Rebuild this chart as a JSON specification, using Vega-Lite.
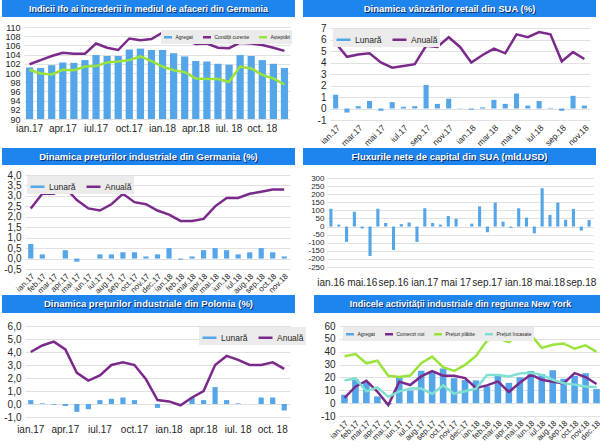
{
"$schema": "https://vega.github.io/schema/vega-lite/v6.json",
"background": "white",
"padding": {"left": 2, "right": 0, "top": 0, "bottom": 0},
"config": {
  "view": {"stroke": null},
  "font": "Liberation Sans",
  "axis": {"labelFont": "Liberation Sans", "labelColor": "#262626", "labelFontSize": 10, "ticks": false, "domain": false, "title": null, "gridColor": "#d9d9d9", "gridWidth": 0.8, "labelOverlap": false, "labelBound": false, "labelFlush": false, "minExtent": 0},
  "axisX": {"grid": false, "labelPadding": 3},
  "axisY": {"labelAlign": "right"},
  "legend": {"title": null, "symbolType": "stroke", "direction": "horizontal", "labelFont": "Liberation Sans", "labelColor": "#262626", "fillColor": "#ebebeb", "padding": 2, "offset": 3, "columnPadding": 5, "labelOffset": 3},
  "bar": {"color": "#55A6E8"},
  "line": {"strokeWidth": 2.5},
  "text": {"font": "Liberation Sans", "fontWeight": "bold"}
},
"datasets": {
"ifo": [
{"m":"ian.17","s":"Agregat","v":101.2},{"m":"feb.17","s":"Agregat","v":101.1},{"m":"mar.17","s":"Agregat","v":101.7},{"m":"apr.17","s":"Agregat","v":102.3},{"m":"mai.17","s":"Agregat","v":102.2},{"m":"iun.17","s":"Agregat","v":102.8},{"m":"iul.17","s":"Agregat","v":103.9},{"m":"aug.17","s":"Agregat","v":103.7},{"m":"sep.17","s":"Agregat","v":103.7},{"m":"oct.17","s":"Agregat","v":105.1},{"m":"nov.17","s":"Agregat","v":105.3},{"m":"dec.17","s":"Agregat","v":105.0},{"m":"ian.18","s":"Agregat","v":105.0},{"m":"feb.18","s":"Agregat","v":104.3},{"m":"mar.18","s":"Agregat","v":103.6},{"m":"apr.18","s":"Agregat","v":102.6},{"m":"mai.18","s":"Agregat","v":102.5},{"m":"iun.18","s":"Agregat","v":102.0},{"m":"iul. 18","s":"Agregat","v":101.8},{"m":"aug.18","s":"Agregat","v":103.9},{"m":"sep.18","s":"Agregat","v":103.7},{"m":"oct. 18","s":"Agregat","v":102.8},{"m":"nov.18","s":"Agregat","v":102.0},{"m":"dec.18","s":"Agregat","v":101.1},
{"m":"ian.17","s":"Condiții curente","v":101.9},{"m":"feb.17","s":"Condiții curente","v":102.8},{"m":"mar.17","s":"Condiții curente","v":103.7},{"m":"apr.17","s":"Condiții curente","v":104.4},{"m":"mai.17","s":"Condiții curente","v":104.2},{"m":"iun.17","s":"Condiții curente","v":104.2},{"m":"iul.17","s":"Condiții curente","v":106.4},{"m":"aug.17","s":"Condiții curente","v":105.5},{"m":"sep.17","s":"Condiții curente","v":105.0},{"m":"oct.17","s":"Condiții curente","v":107.5},{"m":"nov.17","s":"Condiții curente","v":107.1},{"m":"dec.17","s":"Condiții curente","v":107.4},{"m":"ian.18","s":"Condiții curente","v":108.8},{"m":"feb.18","s":"Condiții curente","v":108.4},{"m":"mar.18","s":"Condiții curente","v":107.2},{"m":"apr.18","s":"Condiții curente","v":106.3},{"m":"mai.18","s":"Condiții curente","v":106.4},{"m":"iun.18","s":"Condiții curente","v":105.5},{"m":"iul. 18","s":"Condiții curente","v":105.4},{"m":"aug.18","s":"Condiții curente","v":106.6},{"m":"sep.18","s":"Condiții curente","v":106.4},{"m":"oct. 18","s":"Condiții curente","v":106.1},{"m":"nov.18","s":"Condiții curente","v":105.5},{"m":"dec.18","s":"Condiții curente","v":104.8},
{"m":"ian.17","s":"Așteptări","v":100.7},{"m":"feb.17","s":"Așteptări","v":99.9},{"m":"mar.17","s":"Așteptări","v":99.7},{"m":"apr.17","s":"Așteptări","v":100.7},{"m":"mai.17","s":"Așteptări","v":100.6},{"m":"iun.17","s":"Așteptări","v":101.4},{"m":"iul.17","s":"Așteptări","v":101.5},{"m":"aug.17","s":"Așteptări","v":102.3},{"m":"sep.17","s":"Așteptări","v":102.5},{"m":"oct.17","s":"Așteptări","v":102.8},{"m":"nov.17","s":"Așteptări","v":103.6},{"m":"dec.17","s":"Așteptări","v":102.6},{"m":"ian.18","s":"Așteptări","v":101.4},{"m":"feb.18","s":"Așteptări","v":100.6},{"m":"mar.18","s":"Așteptări","v":100.2},{"m":"apr.18","s":"Așteptări","v":98.8},{"m":"mai.18","s":"Așteptări","v":98.7},{"m":"iun.18","s":"Așteptări","v":98.7},{"m":"iul. 18","s":"Așteptări","v":98.1},{"m":"aug.18","s":"Așteptări","v":101.4},{"m":"sep.18","s":"Așteptări","v":101.0},{"m":"oct. 18","s":"Așteptări","v":99.6},{"m":"nov.18","s":"Așteptări","v":98.8},{"m":"dec.18","s":"Așteptări","v":97.5}
],
"retail": [
{"m":"ian.17","s":"Lunară","v":1.2},{"m":"feb.17","s":"Lunară","v":-0.35},{"m":"mar.17","s":"Lunară","v":0.2},{"m":"apr.17","s":"Lunară","v":0.65},{"m":"mai 17","s":"Lunară","v":-0.2},{"m":"iun.17","s":"Lunară","v":0.55},{"m":"iul.17","s":"Lunară","v":0.15},{"m":"aug.17","s":"Lunară","v":0.2},{"m":"sep.17","s":"Lunară","v":2.05},{"m":"oct.17","s":"Lunară","v":0.4},{"m":"nov.17","s":"Lunară","v":0.85},{"m":"dec.17","s":"Lunară","v":0.02},{"m":"ian.18","s":"Lunară","v":-0.1},{"m":"feb.18","s":"Lunară","v":0.1},{"m":"mar.18","s":"Lunară","v":0.75},{"m":"apr.18","s":"Lunară","v":0.4},{"m":"mai 18","s":"Lunară","v":1.3},{"m":"iun.18","s":"Lunară","v":0.25},{"m":"iul.18","s":"Lunară","v":0.65},{"m":"aug.18","s":"Lunară","v":0.05},{"m":"sep.18","s":"Lunară","v":-0.2},{"m":"oct.18","s":"Lunară","v":1.1},{"m":"nov.18","s":"Lunară","v":0.25},
{"m":"ian.17","s":"Anuală","v":5.7},{"m":"feb.17","s":"Anuală","v":4.5},{"m":"mar.17","s":"Anuală","v":4.7},{"m":"apr.17","s":"Anuală","v":4.8},{"m":"mai 17","s":"Anuală","v":4.0},{"m":"iun.17","s":"Anuală","v":3.55},{"m":"iul.17","s":"Anuală","v":3.7},{"m":"aug.17","s":"Anuală","v":3.85},{"m":"sep.17","s":"Anuală","v":5.45},{"m":"oct.17","s":"Anuală","v":5.35},{"m":"nov.17","s":"Anuală","v":6.2},{"m":"dec.17","s":"Anuală","v":5.35},{"m":"ian.18","s":"Anuală","v":4.0},{"m":"feb.18","s":"Anuală","v":4.65},{"m":"mar.18","s":"Anuală","v":5.2},{"m":"apr.18","s":"Anuală","v":4.8},{"m":"mai 18","s":"Anuală","v":6.45},{"m":"iun.18","s":"Anuală","v":6.2},{"m":"iul.18","s":"Anuală","v":6.65},{"m":"aug.18","s":"Anuală","v":6.45},{"m":"sep.18","s":"Anuală","v":4.1},{"m":"oct.18","s":"Anuală","v":4.9},{"m":"nov.18","s":"Anuală","v":4.3}
],
"deppi": [
{"m":"ian.17","s":"Lunară","v":0.7},{"m":"feb.17","s":"Lunară","v":0.2},{"m":"mar.17","s":"Lunară","v":0.0},{"m":"apr.17","s":"Lunară","v":0.4},{"m":"mai 17","s":"Lunară","v":-0.15},{"m":"iun.17","s":"Lunară","v":0.0},{"m":"iul.17","s":"Lunară","v":0.2},{"m":"aug.17","s":"Lunară","v":0.2},{"m":"sep.17","s":"Lunară","v":0.3},{"m":"oct.17","s":"Lunară","v":0.3},{"m":"nov.17","s":"Lunară","v":0.1},{"m":"dec.17","s":"Lunară","v":0.2},{"m":"ian.18","s":"Lunară","v":0.5},{"m":"feb.18","s":"Lunară","v":-0.05},{"m":"mar.18","s":"Lunară","v":0.1},{"m":"apr.18","s":"Lunară","v":0.4},{"m":"mai.18","s":"Lunară","v":0.5},{"m":"iun.18","s":"Lunară","v":0.4},{"m":"iul.18","s":"Lunară","v":0.2},{"m":"aug.18","s":"Lunară","v":0.3},{"m":"sep.18","s":"Lunară","v":0.5},{"m":"oct.18","s":"Lunară","v":0.3},{"m":"nov.18","s":"Lunară","v":0.1},
{"m":"ian.17","s":"Anuală","v":2.4},{"m":"feb.17","s":"Anuală","v":3.1},{"m":"mar.17","s":"Anuală","v":3.1},{"m":"apr.17","s":"Anuală","v":3.4},{"m":"mai 17","s":"Anuală","v":2.8},{"m":"iun.17","s":"Anuală","v":2.4},{"m":"iul.17","s":"Anuală","v":2.3},{"m":"aug.17","s":"Anuală","v":2.6},{"m":"sep.17","s":"Anuală","v":3.1},{"m":"oct.17","s":"Anuală","v":2.7},{"m":"nov.17","s":"Anuală","v":2.6},{"m":"dec.17","s":"Anuală","v":2.3},{"m":"ian.18","s":"Anuală","v":2.1},{"m":"feb.18","s":"Anuală","v":1.8},{"m":"mar.18","s":"Anuală","v":1.8},{"m":"apr.18","s":"Anuală","v":1.9},{"m":"mai.18","s":"Anuală","v":2.5},{"m":"iun.18","s":"Anuală","v":2.9},{"m":"iul.18","s":"Anuală","v":2.9},{"m":"aug.18","s":"Anuală","v":3.1},{"m":"sep.18","s":"Anuală","v":3.2},{"m":"oct.18","s":"Anuală","v":3.3},{"m":"nov.18","s":"Anuală","v":3.3}
],
"flux": [
{"m":"ian.16","v":110},{"m":"feb.16","v":12},{"m":"mar.16","v":-95},{"m":"apr.16","v":92},{"m":"mai.16","v":-12},{"m":"iun.16","v":-182},{"m":"iul.16","v":110},{"m":"aug.16","v":22},{"m":"sep.16","v":-145},{"m":"oct.16","v":15},{"m":"nov.16","v":25},{"m":"dec.16","v":-95},{"m":"ian.17","v":113},{"m":"feb.17","v":22},{"m":"mar.17","v":12},{"m":"apr.17","v":65},{"m":"mai 17","v":48},{"m":"iun.17","v":0},{"m":"iul.17","v":18},{"m":"aug.17","v":125},{"m":"sep.17","v":-35},{"m":"oct.17","v":148},{"m":"nov.17","v":30},{"m":"dec.17","v":-8},{"m":"ian.18","v":113},{"m":"feb.18","v":55},{"m":"mar.18","v":-42},{"m":"apr.18","v":237},{"m":"mai.18","v":72},{"m":"iun.18","v":148},{"m":"iul.18","v":42},{"m":"aug.18","v":108},{"m":"sep.18","v":-25},{"m":"oct.18","v":40}
],
"plppi": [
{"m":"ian.17","s":"Lunară","v":0.3},{"m":"feb.17","s":"Lunară","v":0.05},{"m":"mar.17","s":"Lunară","v":-0.05},{"m":"apr.17","s":"Lunară","v":-0.15},{"m":"mai.17","s":"Lunară","v":-0.6},{"m":"iun.17","s":"Lunară","v":-0.4},{"m":"iul.17","s":"Lunară","v":0.3},{"m":"aug.17","s":"Lunară","v":0.4},{"m":"sep.17","s":"Lunară","v":0.5},{"m":"oct.17","s":"Lunară","v":0.3},{"m":"nov.17","s":"Lunară","v":0.0},{"m":"dec.17","s":"Lunară","v":-0.3},{"m":"ian.18","s":"Lunară","v":0.0},{"m":"feb.18","s":"Lunară","v":-0.05},{"m":"mar.18","s":"Lunară","v":0.5},{"m":"apr.18","s":"Lunară","v":0.3},{"m":"mai.18","s":"Lunară","v":1.3},{"m":"iun.18","s":"Lunară","v":0.3},{"m":"iul. 18","s":"Lunară","v":0.05},{"m":"aug.18","s":"Lunară","v":0.0},{"m":"sep.18","s":"Lunară","v":0.5},{"m":"oct. 18","s":"Lunară","v":0.5},{"m":"nov.18","s":"Lunară","v":-0.5},
{"m":"ian.17","s":"Anuală","v":4.0},{"m":"feb.17","s":"Anuală","v":4.5},{"m":"mar.17","s":"Anuală","v":4.8},{"m":"apr.17","s":"Anuală","v":4.2},{"m":"mai.17","s":"Anuală","v":2.4},{"m":"iun.17","s":"Anuală","v":1.8},{"m":"iul.17","s":"Anuală","v":2.2},{"m":"aug.17","s":"Anuală","v":3.0},{"m":"sep.17","s":"Anuală","v":3.2},{"m":"oct.17","s":"Anuală","v":3.0},{"m":"nov.17","s":"Anuală","v":1.9},{"m":"dec.17","s":"Anuală","v":0.3},{"m":"ian.18","s":"Anuală","v":0.2},{"m":"feb.18","s":"Anuală","v":-0.1},{"m":"mar.18","s":"Anuală","v":0.5},{"m":"apr.18","s":"Anuală","v":1.0},{"m":"mai.18","s":"Anuală","v":3.0},{"m":"iun.18","s":"Anuală","v":3.7},{"m":"iul. 18","s":"Anuală","v":3.4},{"m":"aug.18","s":"Anuală","v":3.0},{"m":"sep.18","s":"Anuală","v":3.0},{"m":"oct. 18","s":"Anuală","v":3.2},{"m":"nov.18","s":"Anuală","v":2.7}
],
"ny": [
{"m":"ian.17","s":"Agregat","v":6.5},{"m":"feb.17","s":"Agregat","v":18.7},{"m":"mar.17","s":"Agregat","v":16.4},{"m":"apr.17","s":"Agregat","v":5.2},{"m":"mai.17","s":"Agregat","v":-1.0},{"m":"iun.17","s":"Agregat","v":19.8},{"m":"iul.17","s":"Agregat","v":9.8},{"m":"aug.17","s":"Agregat","v":25.2},{"m":"sep.17","s":"Agregat","v":24.4},{"m":"oct.17","s":"Agregat","v":27.0},{"m":"nov.17","s":"Agregat","v":19.4},{"m":"dec.17","s":"Agregat","v":18.0},{"m":"ian.18","s":"Agregat","v":17.7},{"m":"feb.18","s":"Agregat","v":13.1},{"m":"mar.18","s":"Agregat","v":22.5},{"m":"apr.18","s":"Agregat","v":15.8},{"m":"mai.18","s":"Agregat","v":20.1},{"m":"iun.18","s":"Agregat","v":25.0},{"m":"iul.18","s":"Agregat","v":22.6},{"m":"aug.18","s":"Agregat","v":25.6},{"m":"sep.18","s":"Agregat","v":19.0},{"m":"oct.18","s":"Agregat","v":21.1},{"m":"nov.18","s":"Agregat","v":23.3},{"m":"dec.18","s":"Agregat","v":10.9},
{"m":"ian.17","s":"Comenzi noi","v":4.1},{"m":"feb.17","s":"Comenzi noi","v":12.8},{"m":"mar.17","s":"Comenzi noi","v":17.4},{"m":"apr.17","s":"Comenzi noi","v":9.0},{"m":"mai.17","s":"Comenzi noi","v":-1.5},{"m":"iun.17","s":"Comenzi noi","v":16.7},{"m":"iul.17","s":"Comenzi noi","v":14.1},{"m":"aug.17","s":"Comenzi noi","v":20.8},{"m":"sep.17","s":"Comenzi noi","v":24.9},{"m":"oct.17","s":"Comenzi noi","v":21.3},{"m":"nov.17","s":"Comenzi noi","v":21.3},{"m":"dec.17","s":"Comenzi noi","v":19.5},{"m":"ian.18","s":"Comenzi noi","v":11.8},{"m":"feb.18","s":"Comenzi noi","v":13.8},{"m":"mar.18","s":"Comenzi noi","v":16.9},{"m":"apr.18","s":"Comenzi noi","v":8.7},{"m":"mai.18","s":"Comenzi noi","v":15.9},{"m":"iun.18","s":"Comenzi noi","v":22.1},{"m":"iul.18","s":"Comenzi noi","v":18.2},{"m":"aug.18","s":"Comenzi noi","v":16.7},{"m":"sep.18","s":"Comenzi noi","v":15.4},{"m":"oct.18","s":"Comenzi noi","v":23.3},{"m":"nov.18","s":"Comenzi noi","v":20.3},{"m":"dec.18","s":"Comenzi noi","v":14.9},
{"m":"ian.17","s":"Prețuri plătite","v":36.4},{"m":"feb.17","s":"Prețuri plătite","v":38.2},{"m":"mar.17","s":"Prețuri plătite","v":31.0},{"m":"apr.17","s":"Prețuri plătite","v":33.0},{"m":"mai.17","s":"Prețuri plătite","v":21.3},{"m":"iun.17","s":"Prețuri plătite","v":20.3},{"m":"iul.17","s":"Prețuri plătite","v":21.5},{"m":"aug.17","s":"Prețuri plătite","v":31.0},{"m":"sep.17","s":"Prețuri plătite","v":36.2},{"m":"oct.17","s":"Prețuri plătite","v":28.0},{"m":"nov.17","s":"Prețuri plătite","v":25.0},{"m":"dec.17","s":"Prețuri plătite","v":29.7},{"m":"ian.18","s":"Prețuri plătite","v":36.7},{"m":"feb.18","s":"Prețuri plătite","v":48.7},{"m":"mar.18","s":"Prețuri plătite","v":50.5},{"m":"apr.18","s":"Prețuri plătite","v":47.4},{"m":"mai.18","s":"Prețuri plătite","v":54.6},{"m":"iun.18","s":"Prețuri plătite","v":53.3},{"m":"iul.18","s":"Prețuri plătite","v":43.0},{"m":"aug.18","s":"Prețuri plătite","v":45.4},{"m":"sep.18","s":"Prețuri plătite","v":46.4},{"m":"oct.18","s":"Prețuri plătite","v":42.3},{"m":"nov.18","s":"Prețuri plătite","v":44.9},{"m":"dec.18","s":"Prețuri plătite","v":40.0},
{"m":"ian.17","s":"Prețuri încasate","v":17.7},{"m":"feb.17","s":"Prețuri încasate","v":19.2},{"m":"mar.17","s":"Prețuri încasate","v":9.2},{"m":"apr.17","s":"Prețuri încasate","v":12.3},{"m":"mai.17","s":"Prețuri încasate","v":4.9},{"m":"iun.17","s":"Prețuri încasate","v":9.2},{"m":"iul.17","s":"Prețuri încasate","v":11.3},{"m":"aug.17","s":"Prețuri încasate","v":11.3},{"m":"sep.17","s":"Prețuri încasate","v":7.2},{"m":"oct.17","s":"Prețuri încasate","v":13.8},{"m":"nov.17","s":"Prețuri încasate","v":7.4},{"m":"dec.17","s":"Prețuri încasate","v":9.2},{"m":"ian.18","s":"Prețuri încasate","v":11.3},{"m":"feb.18","s":"Prețuri încasate","v":21.8},{"m":"mar.18","s":"Prețuri încasate","v":21.8},{"m":"apr.18","s":"Prețuri încasate","v":20.8},{"m":"mai.18","s":"Prețuri încasate","v":23.1},{"m":"iun.18","s":"Prețuri încasate","v":23.6},{"m":"iul.18","s":"Prețuri încasate","v":22.0},{"m":"aug.18","s":"Prețuri încasate","v":18.2},{"m":"sep.18","s":"Prețuri încasate","v":15.4},{"m":"oct.18","s":"Prețuri încasate","v":14.4},{"m":"nov.18","s":"Prețuri încasate","v":13.0},{"m":"dec.18","s":"Prețuri încasate","v":12.3}
]
},
"spacing": 0,
"resolve": {"scale": {"color": "independent"}, "legend": {"color": "independent"}},
"vconcat": [
{"hconcat": [
  {"vconcat": [
    {"width": 293, "height": 17, "view": {"fill": "#1E84EE", "stroke": null}, "data": {"values": [{"t": "Indicii Ifo ai încrederii în mediul de afaceri din Germania"}]},
     "layer": [
      {"mark": {"type": "text", "color": "#0b2b66", "dx": 1, "dy": 1, "fontSize": 9}, "encoding": {"text": {"field": "t"}}},
      {"mark": {"type": "text", "color": "white", "fontSize": 9}, "encoding": {"text": {"field": "t"}}}
     ]},
    {"width": 293, "height": 92, "data": {"name": "ifo"},
     "encoding": {
       "x": {"field": "m", "type": "ordinal", "sort": ["ian.17","feb.17","mar.17","apr.17","mai.17","iun.17","iul.17","aug.17","sep.17","oct.17","nov.17","dec.17","ian.18","feb.18","mar.18","apr.18","mai.18","iun.18","iul. 18","aug.18","sep.18","oct. 18","nov.18","dec.18"],
             "scale": {"domain": ["ian.17","feb.17","mar.17","apr.17","mai.17","iun.17","iul.17","aug.17","sep.17","oct.17","nov.17","dec.17","ian.18","feb.18","mar.18","apr.18","mai.18","iun.18","iul. 18","aug.18","sep.18","oct. 18","nov.18","dec.18"], "paddingInner": 0.35, "range": [22, 288]},
             "axis": {"values": ["ian.17","apr.17","iul.17","oct.17","ian.18","apr.18","iul. 18","oct. 18"], "labelAngle": 0, "labelPadding": 4}},
       "y": {"field": "v", "type": "quantitative", "scale": {"domain": [90, 110], "nice": false, "zero": false}, "axis": {"values": [90,92,94,96,98,100,102,104,106,108,110], "labelPadding": -18, "labelFontSize": 9}},
       "color": {"field": "s", "type": "nominal", "scale": {"domain": ["Agregat","Condiții curente","Așteptări"], "range": ["#55A6E8","#7B2A8B","#99E33A"]},
                 "legend": {"orient": "top-right", "labelFontSize": 5, "symbolSize": 64, "symbolStrokeWidth": 1.5, "padding": 1.5, "offset": 3, "columnPadding": 4, "labelOffset": 2}}
     },
     "layer": [
       {"transform": [{"filter": "datum.s == 'Agregat'"}], "mark": {"type": "bar"}, "encoding": {"y2": {"datum": 90}}},
       {"transform": [{"filter": "datum.s != 'Agregat'"}], "mark": {"type": "line", "strokeWidth": 2.5}}
     ]}
  ], "spacing": 6, "resolve": {"scale": {"color": "independent"}, "legend": {"color": "independent"}}},
  {"vconcat": [
    {"width": 293, "height": 17, "view": {"fill": "#1E84EE", "stroke": null}, "data": {"values": [{"t": "Dinamica vânzărilor retail din SUA (%)"}]},
     "layer": [
      {"mark": {"type": "text", "color": "#0b2b66", "dx": 1, "dy": 1, "fontSize": 9.5}, "encoding": {"text": {"field": "t"}}},
      {"mark": {"type": "text", "color": "white", "fontSize": 9.5}, "encoding": {"text": {"field": "t"}}}
     ]},
    {"width": 293, "height": 92, "data": {"name": "retail"},
     "encoding": {
       "x": {"field": "m", "type": "ordinal", "sort": ["ian.17","feb.17","mar.17","apr.17","mai 17","iun.17","iul.17","aug.17","sep.17","oct.17","nov.17","dec.17","ian.18","feb.18","mar.18","apr.18","mai 18","iun.18","iul.18","aug.18","sep.18","oct.18","nov.18"],
             "scale": {"domain": ["ian.17","feb.17","mar.17","apr.17","mai 17","iun.17","iul.17","aug.17","sep.17","oct.17","nov.17","dec.17","ian.18","feb.18","mar.18","apr.18","mai 18","iun.18","iul.18","aug.18","sep.18","oct.18","nov.18"], "paddingInner": 0.55, "range": [27, 287]},
             "axis": {"values": ["ian.17","mar.17","mai 17","iul.17","sep.17","nov.17","ian.18","mar.18","mai 18","iul.18","sep.18","nov.18"], "labelAngle": -45, "labelFontSize": 8.5}},
       "y": {"field": "v", "type": "quantitative", "scale": {"domain": [-1, 7], "nice": false}, "axis": {"values": [-1,0,1,2,3,4,5,6,7], "labelExpr": "replace(format(datum.value, 'd'), '\u2212', '-')", "labelPadding": -23}},
       "color": {"field": "s", "type": "nominal", "scale": {"domain": ["Lunară","Anuală"], "range": ["#55A6E8","#7B2A8B"]},
                 "legend": {"orient": "none", "legendX": 30, "legendY": 1, "labelFontSize": 8.5, "symbolSize": 196, "symbolStrokeWidth": 3}}
     },
     "layer": [
       {"transform": [{"filter": "datum.s == 'Lunară'"}], "mark": {"type": "bar"}},
       {"transform": [{"filter": "datum.s == 'Anuală'"}], "mark": {"type": "line", "strokeWidth": 2.5}}
     ]}
  ], "spacing": 6, "resolve": {"scale": {"color": "independent"}, "legend": {"color": "independent"}}}
], "spacing": 8, "resolve": {"scale": {"color": "independent"}, "legend": {"color": "independent"}}},
{"hconcat": [
  {"vconcat": [
    {"width": 293, "height": 17, "view": {"fill": "#1E84EE", "stroke": null}, "data": {"values": [{"t": "Dinamica prețurilor industriale din Germania (%)"}]},
     "layer": [
      {"mark": {"type": "text", "color": "#0b2b66", "dx": 1, "dy": 1, "fontSize": 9.5}, "encoding": {"text": {"field": "t"}}},
      {"mark": {"type": "text", "color": "white", "fontSize": 9.5}, "encoding": {"text": {"field": "t"}}}
     ]},
    {"width": 293, "height": 94, "data": {"name": "deppi"},
     "encoding": {
       "x": {"field": "m", "type": "ordinal", "sort": ["ian.17","feb.17","mar.17","apr.17","mai 17","iun.17","iul.17","aug.17","sep.17","oct.17","nov.17","dec.17","ian.18","feb.18","mar.18","apr.18","mai.18","iun.18","iul.18","aug.18","sep.18","oct.18","nov.18"],
             "scale": {"domain": ["ian.17","feb.17","mar.17","apr.17","mai 17","iun.17","iul.17","aug.17","sep.17","oct.17","nov.17","dec.17","ian.18","feb.18","mar.18","apr.18","mai.18","iun.18","iul.18","aug.18","sep.18","oct.18","nov.18"], "paddingInner": 0.55, "range": [23, 288]},
             "axis": {"labelAngle": -45, "labelFontSize": 8}},
       "y": {"field": "v", "type": "quantitative", "scale": {"domain": [-0.5, 4], "nice": false}, "axis": {"values": [-0.5,0,0.5,1,1.5,2,2.5,3,3.5,4], "labelExpr": "replace(replace(format(datum.value, '.1f'), '.', ','), '\u2212', '-')", "labelPadding": -19}},
       "color": {"field": "s", "type": "nominal", "scale": {"domain": ["Lunară","Anuală"], "range": ["#55A6E8","#7B2A8B"]},
                 "legend": {"orient": "none", "legendX": 25, "legendY": 1, "labelFontSize": 8.5, "symbolSize": 196, "symbolStrokeWidth": 3}}
     },
     "layer": [
       {"transform": [{"filter": "datum.s == 'Lunară'"}], "mark": {"type": "bar"}},
       {"transform": [{"filter": "datum.s == 'Anuală'"}], "mark": {"type": "line", "strokeWidth": 2.5}}
     ]}
  ], "spacing": 5, "resolve": {"scale": {"color": "independent"}, "legend": {"color": "independent"}}},
  {"vconcat": [
    {"width": 293, "height": 17, "view": {"fill": "#1E84EE", "stroke": null}, "data": {"values": [{"t": "Fluxurile nete de capital din SUA (mld.USD)"}]},
     "layer": [
      {"mark": {"type": "text", "color": "#0b2b66", "dx": 1, "dy": 1, "fontSize": 9.5}, "encoding": {"text": {"field": "t"}}},
      {"mark": {"type": "text", "color": "white", "fontSize": 9.5}, "encoding": {"text": {"field": "t"}}}
     ]},
    {"width": 293, "height": 89, "data": {"name": "flux"},
     "mark": {"type": "bar", "color": "#55A6E8"},
     "encoding": {
       "x": {"field": "m", "type": "ordinal", "sort": null,
             "scale": {"domain": ["ian.16","feb.16","mar.16","apr.16","mai.16","iun.16","iul.16","aug.16","sep.16","oct.16","nov.16","dec.16","ian.17","feb.17","mar.17","apr.17","mai 17","iun.17","iul.17","aug.17","sep.17","oct.17","nov.17","dec.17","ian.18","feb.18","mar.18","apr.18","mai.18","iun.18","iul.18","aug.18","sep.18","oct.18"], "paddingInner": 0.6, "range": [24, 290]},
             "axis": {"values": ["ian.16","mai.16","sep.16","ian.17","mai 17","sep.17","ian.18","mai.18","sep.18"], "labelAngle": 0, "labelPadding": 10}},
       "y": {"field": "v", "type": "quantitative", "scale": {"domain": [-250, 300], "nice": false}, "axis": {"values": [-250,-200,-150,-100,-50,0,50,100,150,200,250,300], "labelExpr": "replace(format(datum.value, 'd'), '\u2212', '-')", "labelPadding": -21, "labelFontSize": 8}}
     }}
  ], "spacing": 9, "resolve": {"scale": {"color": "independent"}, "legend": {"color": "independent"}}}
], "spacing": 8, "resolve": {"scale": {"color": "independent"}, "legend": {"color": "independent"}}},
{"hconcat": [
  {"vconcat": [
    {"width": 293, "height": 18, "view": {"fill": "#1E84EE", "stroke": null}, "data": {"values": [{"t": "Dinamica prețurilor industriale din Polonia (%)"}]},
     "layer": [
      {"mark": {"type": "text", "color": "#0b2b66", "dx": 1, "dy": 1, "fontSize": 9.5}, "encoding": {"text": {"field": "t"}}},
      {"mark": {"type": "text", "color": "white", "fontSize": 9.5}, "encoding": {"text": {"field": "t"}}}
     ]},
    {"width": 293, "height": 91, "data": {"name": "plppi"},
     "encoding": {
       "x": {"field": "m", "type": "ordinal", "sort": ["ian.17","feb.17","mar.17","apr.17","mai.17","iun.17","iul.17","aug.17","sep.17","oct.17","nov.17","dec.17","ian.18","feb.18","mar.18","apr.18","mai.18","iun.18","iul. 18","aug.18","sep.18","oct. 18","nov.18"],
             "scale": {"domain": ["ian.17","feb.17","mar.17","apr.17","mai.17","iun.17","iul.17","aug.17","sep.17","oct.17","nov.17","dec.17","ian.18","feb.18","mar.18","apr.18","mai.18","iun.18","iul. 18","aug.18","sep.18","oct. 18","nov.18"], "paddingInner": 0.55, "range": [23, 288]},
             "axis": {"values": ["ian.17","apr.17","iul.17","oct.17","ian.18","apr.18","iul. 18","oct. 18"], "labelAngle": 0, "labelPadding": 7}},
       "y": {"field": "v", "type": "quantitative", "scale": {"domain": [-1, 6], "nice": false}, "axis": {"values": [-1,0,1,2,3,4,5,6], "labelExpr": "replace(replace(format(datum.value, '.1f'), '.', ','), '\u2212', '-')", "labelPadding": -19}},
       "color": {"field": "s", "type": "nominal", "scale": {"domain": ["Lunară","Anuală"], "range": ["#55A6E8","#7B2A8B"]},
                 "legend": {"orient": "none", "legendX": 197, "legendY": 1, "labelFontSize": 8.5, "symbolSize": 196, "symbolStrokeWidth": 3}}
     },
     "layer": [
       {"transform": [{"filter": "datum.s == 'Lunară'"}], "mark": {"type": "bar"}},
       {"transform": [{"filter": "datum.s == 'Anuală'"}], "mark": {"type": "line", "strokeWidth": 2.5}}
     ]}
  ], "spacing": 8, "resolve": {"scale": {"color": "independent"}, "legend": {"color": "independent"}}},
  {"vconcat": [
    {"width": 293, "height": 18, "view": {"fill": "#1E84EE", "stroke": null}, "data": {"values": [{"t": "Indicele activității industriale din regiunea New York"}]},
     "layer": [
      {"mark": {"type": "text", "color": "#0b2b66", "dx": 1, "dy": 1, "fontSize": 9}, "encoding": {"text": {"field": "t"}}},
      {"mark": {"type": "text", "color": "white", "fontSize": 9}, "encoding": {"text": {"field": "t"}}}
     ]},
    {"width": 293, "height": 90, "data": {"name": "ny"},
     "encoding": {
       "x": {"field": "m", "type": "ordinal", "sort": ["ian.17","feb.17","mar.17","apr.17","mai.17","iun.17","iul.17","aug.17","sep.17","oct.17","nov.17","dec.17","ian.18","feb.18","mar.18","apr.18","mai.18","iun.18","iul.18","aug.18","sep.18","oct.18","nov.18","dec.18"],
             "scale": {"domain": ["ian.17","feb.17","mar.17","apr.17","mai.17","iun.17","iul.17","aug.17","sep.17","oct.17","nov.17","dec.17","ian.18","feb.18","mar.18","apr.18","mai.18","iun.18","iul.18","aug.18","sep.18","oct.18","nov.18","dec.18"], "paddingInner": 0.4, "range": [25, 288]},
             "axis": {"labelAngle": -45, "labelFontSize": 8}},
       "y": {"field": "v", "type": "quantitative", "scale": {"domain": [-10, 60], "nice": false}, "axis": {"values": [-10,0,10,20,30,40,50,60], "labelExpr": "replace(format(datum.value, 'd'), '\u2212', '-')", "labelPadding": -21}},
       "color": {"field": "s", "type": "nominal", "scale": {"domain": ["Agregat","Comenzi noi","Prețuri plătite","Prețuri încasate"], "range": ["#55A6E8","#7B2A8B","#99E33A","#80E0CF"]},
                 "legend": {"orient": "none", "legendX": 29, "legendY": 1, "labelFontSize": 5, "symbolSize": 64, "symbolStrokeWidth": 1.5, "padding": 1.5, "columnPadding": 4, "labelOffset": 2}}
     },
     "layer": [
       {"transform": [{"filter": "datum.s == 'Agregat'"}], "mark": {"type": "bar"}},
       {"transform": [{"filter": "datum.s != 'Agregat'"}], "mark": {"type": "line", "strokeWidth": 2.5}}
     ]}
  ], "spacing": 8, "resolve": {"scale": {"color": "independent"}, "legend": {"color": "independent"}}}
], "spacing": 8, "resolve": {"scale": {"color": "independent"}, "legend": {"color": "independent"}}}
]
}
